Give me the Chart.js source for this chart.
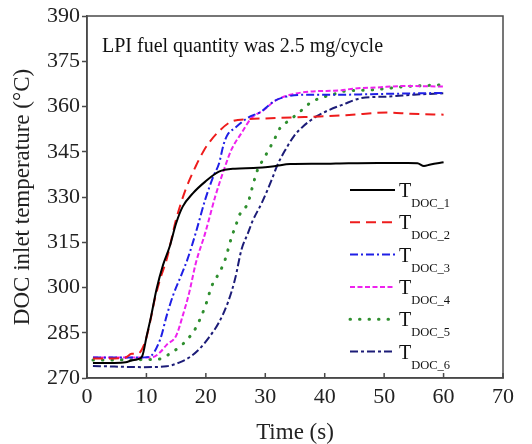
<!DOCTYPE html>
<html>
<head>
<meta charset="utf-8">
<script src="https://cdn.jsdelivr.net/npm/chart.js@4.4.1/dist/chart.umd.min.js"></script>
<style>
  html, body { margin: 0; padding: 0; background: #ffffff; }
  #wrap { width: 532px; height: 444px; }
</style>
</head>
<body>
<div id="wrap"><canvas id="c" width="532" height="444"></canvas></div>
<script>
// ---- data (time in s, temperature in °C) ----
const t1Time = [1, 4.6, 6.5, 7.5, 8.5, 9.3, 10.05, 10.8, 11.7, 12.8, 13.9, 15.0, 16.1, 17.8, 19.9, 22.2, 24.9, 28, 31.5, 34.2, 39, 44, 49, 54, 55.6, 56.7, 57.8, 60];
const t1Temp = [275, 275, 275.2, 275.8, 276.2, 277.3, 284, 290.6, 299.4, 307.5, 313.5, 321.3, 326.8, 331.2, 335.1, 338.4, 339.4, 339.6, 340.2, 340.9, 341, 341.2, 341.3, 341.3, 341.2, 340.3, 340.8, 341.5];

const t2Time = [1, 4.6, 6.5, 7.5, 8.5, 9.75, 10.6, 11.4, 12.3, 13.4, 15.0, 16.6, 18.3, 19.6, 20.5, 22.2, 24.3, 27.1, 30.9, 34.8, 39.2, 44.1, 50.6, 54.4, 60];
const t2Temp = [276.5, 276.5, 276.8, 278, 278, 281.8, 288.4, 296.1, 302.7, 309.3, 322.6, 332.5, 340.2, 345.2, 347.9, 351.8, 355, 355.8, 356.1, 356.4, 356.7, 357.2, 358, 357.6, 357.3];

const t3Time = [1, 4.6, 8.5, 10.4, 12.3, 13.4, 14.45, 15.8, 16.9, 18.3, 19.9, 21.3, 22.2, 23.0, 23.6, 24.9, 27.1, 29.3, 30, 31.5, 33.6, 37.5, 42.4, 47.9, 53.5, 60];
const t3Temp = [276.8, 276.8, 276.8, 277, 282.7, 290.6, 297.2, 303.8, 309.3, 318.1, 329.2, 337, 341, 347.5, 350.5, 352.9, 356.3, 358.3, 359.4, 361.8, 363.3, 363.9, 363.9, 364.1, 364.3, 364.5];

const t4Time = [1, 4.6, 8.5, 11.1, 12.3, 13.4, 15.0, 16.1, 17.2, 18.3, 19.9, 21.6, 23.25, 24.3, 26.0, 27.65, 29.8, 31.5, 34.2, 38.0, 42.4, 45.2, 48.6, 53.5, 60];
const t4Temp = [276.8, 276.8, 276.8, 277, 278.5, 281, 284, 290.6, 298.3, 308, 318.1, 330.3, 340.2, 345.7, 351.2, 356.1, 358.9, 361.7, 363.9, 365, 365.3, 366, 366.3, 366.8, 366.6];

const t5Time = [1, 4.6, 9.5, 12.3, 13.9, 15.5, 16.9, 18.3, 19.9, 21.0, 22.4, 23.25, 24.3, 25.1, 25.7, 27.1, 27.65, 28.7, 29.8, 31.5, 32.5, 34.2, 35.9, 37.5, 39.2, 41.3, 43.0, 47.9, 53.5, 60];
const t5Temp = [276, 276, 276.1, 276.3, 278, 280.2, 282.8, 286.6, 293.8, 300.5, 305.4, 309.3, 316.5, 320.9, 324.2, 328.1, 332, 339, 342.9, 349, 352.9, 355.6, 358.4, 361.1, 362.8, 363.9, 365, 365.5, 366.6, 367.2];

const t6Time = [1, 4.6, 9.5, 13.4, 15.5, 17.2, 18.85, 20.5, 22.2, 23.7, 24.9, 26.0, 27.1, 27.85, 29.4, 31.2, 31.95, 33.4, 34.8, 36.35, 38.6, 40.8, 43.0, 46.2, 50.7, 55, 60];
const t6Temp = [274, 273.8, 273.6, 273.9, 275.1, 276.8, 279.5, 283.4, 288.4, 295, 302.7, 312.6, 318.1, 322, 328, 336.3, 340.2, 345.7, 350.1, 353.4, 356.7, 358.9, 360.6, 362.8, 363.3, 363.9, 364.4];

const seriesSubs = ['DOC_1', 'DOC_2', 'DOC_3', 'DOC_4', 'DOC_5', 'DOC_6'];
const annotationText = 'LPI fuel quantity was 2.5 mg/cycle';
const xTitle = 'Time (s)';
const yTitle = 'DOC inlet temperature (°C)';

// ---- styles ----
const SERIF = '"Liberation Serif", "Times New Roman", serif';
const styles = [
  { color: '#000000', dash: [], width: 2 },
  { color: '#ee1c1c', dash: [10, 6], width: 2 },
  { color: '#1f1fe6', dash: [8, 3, 2, 3], width: 2 },
  { color: '#ee22ee', dash: [5, 2.5], width: 2 },
  { color: '#2f8f2f', dash: [0.5, 9], width: 3, cap: 'round' },
  { color: '#1c1c78', dash: [8, 3, 3, 3], width: 2 }
];
const times = [t1Time, t2Time, t3Time, t4Time, t5Time, t6Time];
const temps = [t1Temp, t2Temp, t3Temp, t4Temp, t5Temp, t6Temp];

const datasets = times.map((tx, i) => ({
  label: 'T' + seriesSubs[i],
  data: tx.map((x, j) => ({ x: x, y: temps[i][j] })),
  borderColor: styles[i].color,
  backgroundColor: styles[i].color,
  borderDash: styles[i].dash,
  borderWidth: styles[i].width,
  borderCapStyle: styles[i].cap || 'butt',
  pointRadius: 0,
  fill: false,
  cubicInterpolationMode: 'monotone'
}));

const framePlugin = {
  id: 'frame',
  afterDraw(chart) {
    const { ctx, chartArea: a } = chart;
    ctx.save();
    ctx.strokeStyle = '#4a4a4a';
    ctx.lineWidth = 1.5;
    ctx.strokeRect(a.left, a.top, a.right - a.left, a.bottom - a.top);
    // inward x ticks
    const xs = chart.scales.x;
    ctx.beginPath();
    xs.ticks.forEach(t => {
      const px = xs.getPixelForValue(t.value);
      ctx.moveTo(px, a.bottom);
      ctx.lineTo(px, a.bottom - 5);
    });
    ctx.stroke();
    // annotation
    ctx.fillStyle = '#111';
    ctx.font = '20px ' + SERIF;
    ctx.textBaseline = 'alphabetic';
    ctx.textAlign = 'left';
    ctx.fillText(annotationText, a.left + 15, 52);
    // legend
    const x0 = 350, x1 = 395, y0 = 190, step = 32.3;
    chart.data.datasets.forEach((ds, i) => {
      const y = y0 + i * step;
      ctx.save();
      ctx.strokeStyle = ds.borderColor;
      ctx.lineWidth = ds.borderWidth;
      ctx.lineCap = ds.borderCapStyle;
      ctx.setLineDash(ds.borderDash);
      ctx.beginPath();
      ctx.moveTo(x0, y);
      ctx.lineTo(x1, y);
      ctx.stroke();
      ctx.restore();
      ctx.fillStyle = '#111';
      ctx.font = '20px ' + SERIF;
      ctx.fillText('T', 399, y + 7);
      const w = ctx.measureText('T').width;
      ctx.font = '12.5px ' + SERIF;
      ctx.fillText(seriesSubs[i], 399 + w, y + 17);
    });
    ctx.restore();
  }
};

new Chart(document.getElementById('c'), {
  type: 'line',
  data: { datasets: datasets },
  options: {
    responsive: false,
    animation: false,
    events: [],
    layout: { padding: { left: 0, right: 29, top: 16, bottom: 0 } },
    plugins: { legend: { display: false }, tooltip: { enabled: false } },
    scales: {
      x: {
        type: 'linear',
        min: 0, max: 70,
        ticks: { stepSize: 10, font: { family: SERIF, size: 22 }, color: '#222', padding: 6, maxRotation: 0 },
        grid: { drawOnChartArea: false, drawTicks: false, color: '#4a4a4a' },
        border: { display: true, color: '#4a4a4a', width: 1.5 },
        title: { display: true, text: xTitle, font: { family: SERIF, size: 23, lineHeight: 1 }, color: '#222', padding: { top: 0, bottom: 0 } },
        afterFit(scale) { scale.height = 66; }
      },
      y: {
        min: 270, max: 390,
        ticks: { stepSize: 15, font: { family: SERIF, size: 22 }, color: '#222', padding: 2 },
        grid: { drawOnChartArea: false, drawTicks: true, tickLength: 5, color: '#4a4a4a', tickWidth: 1.5 },
        border: { display: true, color: '#4a4a4a', width: 1.5 },
        title: { display: true, text: yTitle, font: { family: SERIF, size: 23, lineHeight: 1 }, color: '#222', padding: { top: 11, bottom: 0 } },
        afterFit(scale) { scale.width = 87; }
      }
    }
  },
  plugins: [framePlugin]
});
</script>
</body>
</html>
